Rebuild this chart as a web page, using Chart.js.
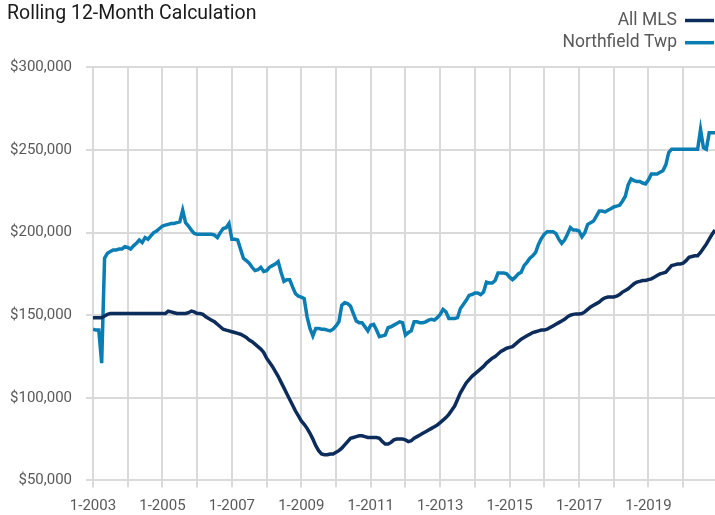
<!DOCTYPE html>
<html>
<head>
<meta charset="utf-8">
<script src="https://cdn.jsdelivr.net/npm/chart.js@4.4.1/dist/chart.umd.min.js"></script>
<style>
html, body { margin: 0; padding: 0; background: #fff; }
#wrap { width: 715px; height: 515px; position: relative; }
</style>
</head>
<body>
<div id="wrap"><canvas id="myChart"></canvas></div>
<script>
// Monthly rolling values, 1-2003 to 12-2020 (one row per year)
const startYear = 2003;
const tickYears = [2003, 2004, 2005, 2006, 2007, 2008, 2009, 2010, 2011, 2012, 2013, 2014, 2015, 2016, 2017, 2018, 2019, 2020];
const yTicks = [50000, 100000, 150000, 200000, 250000, 300000];
const seriesNames = ['All MLS', 'Northfield Twp'];

const allMls = [
	148500, 148500, 148500, 148500, 149500, 150500, 151000, 151000, 151000, 151000, 151000, 151000,
	151000, 151000, 151000, 151000, 151000, 151000, 151000, 151000, 151000, 151000, 151000, 151000,
	151000, 151000, 152500, 152000, 151500, 151000, 151000, 151000, 151000, 151500, 152500, 152000,
	151000, 151000, 150500, 149000, 148000, 147000, 146000, 144500, 143000, 141500, 141000, 140500,
	140000, 139500, 139000, 138500, 137500, 136500, 135000, 134000, 132500, 131000, 129500, 127500,
	124000, 121500, 119000, 116000, 113000, 109500, 106000, 102500, 99000, 95500, 92000, 89000,
	86000, 84000, 81500, 78500, 75000, 71000, 68000, 66000, 65500, 65500, 66000, 66000,
	67000, 68000, 69500, 71500, 73500, 75500, 76000, 76500, 77000, 77000, 76500, 76000,
	76000, 76000, 76000, 75500, 73500, 72000, 72000, 73000, 74500, 75000, 75000, 75000,
	74500, 73500, 74000, 75500, 76500, 77500, 78500, 79500, 80500, 81500, 82500, 83500,
	85000, 86500, 88000, 90000, 92500, 95000, 99000, 103000, 106000, 109000, 111000, 113000,
	114500, 116000, 117500, 119000, 121000, 122500, 124000, 125000, 126500, 128000, 129000, 130000,
	130500, 131000, 132500, 134000, 135500, 136500, 137500, 138500, 139500, 140000, 140500, 141000,
	141000, 141500, 142500, 143500, 144500, 145500, 146500, 147500, 149000, 150000, 150500, 150800,
	150800, 151000, 152000, 153500, 155000, 156000, 157000, 158000, 159500, 160500, 161000, 161000,
	161000, 161500, 162500, 164000, 165000, 166000, 167500, 169000, 170000, 170500, 171000, 171000,
	171500, 172000, 173000, 174000, 175000, 175500, 176000, 178000, 180000, 180500, 181000, 181000,
	181500, 183000, 185000, 185500, 186000, 186000, 188000, 190500, 193000, 196000, 199000, 201500
];

const northfield = [
	141500, 141000, 141000, 121000, 184500, 187500, 188500, 189500, 189500, 190000, 190000, 191500,
	191000, 190000, 192000, 193500, 195500, 194000, 197000, 196000, 198000, 200000, 201000, 202500,
	204000, 204500, 205000, 205500, 205500, 206000, 206500, 213500, 206000, 204000, 201500, 199500,
	199000, 199000, 199000, 199000, 199000, 199000, 198500, 197000, 200000, 202500, 203000, 205500,
	196000, 196000, 195500, 190000, 184500, 183000, 181500, 179000, 177000, 177500, 179000, 176500,
	177000, 179000, 180000, 181000, 182500, 176000, 170500, 171500, 171500, 167000, 163000, 161500,
	161000, 160000, 149000, 142000, 137500, 142000, 142000, 141500, 141500, 141000, 140500, 141500,
	143500, 146000, 156000, 157500, 157000, 155500, 151000, 146500, 145500, 145500, 143000, 140500,
	144000, 144500, 141000, 137000, 137500, 138000, 142500, 143000, 144000, 145000, 146000, 145500,
	138000, 139500, 140500, 146000, 146000, 145500, 145500, 146000, 147000, 147500, 147000, 148500,
	150500, 153500, 152000, 148000, 148000, 148000, 148500, 154000, 156500, 159000, 162000, 162500,
	163500, 163500, 162500, 164000, 170000, 169500, 169500, 171000, 175500, 175500, 175500, 175000,
	173000, 171500, 173000, 175000, 176000, 180000, 182000, 184500, 186000, 188000, 193000, 196500,
	199000, 200500, 200500, 200500, 199500, 196000, 193500, 195500, 199000, 203000, 201500, 201500,
	201000, 197500, 200000, 205000, 206000, 207000, 210000, 213000, 213000, 212500, 213500, 214500,
	215500, 216000, 216500, 219000, 222000, 229000, 232500, 231500, 231000, 231000, 230000, 229500,
	232000, 235500, 235500, 235500, 236500, 237500, 241000, 248500, 250500, 250500, 250500, 250500,
	250500, 250500, 250500, 250500, 250500, 250500, 262500, 251500, 250500, 260500, 260500, 260500
];

const colors = ['#0c2d5c', '#0a7db3'];
const gridColor = '#dadada';
const textColor = '#595959';

//Title and legend drawn on the canvas
const titleLegend = {
	id: 'titleLegend',
	afterDraw(chart) {
		let ctx = chart.ctx;
		ctx.save();
		ctx.font = '19.5px Roboto';
		ctx.fillStyle = '#1a1a1a';
		ctx.textAlign = 'left';
		ctx.textBaseline = 'alphabetic';
		ctx.fillText('Rolling 12-Month Calculation', 7, 19);

		ctx.font = '17.5px Roboto';
		ctx.textAlign = 'right';
		ctx.textBaseline = 'middle';
		chart.data.datasets.forEach((ds, i) => {
			let y = 20.5 + i * 22.2;
			ctx.fillStyle = textColor;
			ctx.fillText(ds.label, 677, y);
			ctx.strokeStyle = ds.borderColor;
			ctx.lineWidth = 3.5;
			ctx.beginPath();
			ctx.moveTo(685, y);
			ctx.lineTo(714, y);
			ctx.stroke();
		});
		ctx.restore();
	}
};

const toPoints = arr => arr.map((v, i) => ({ x: i, y: v }));

const ctx = document.getElementById('myChart').getContext('2d');
const myChart = new Chart(ctx, {
	type: 'line',
	data: {
		datasets: [{
			label: seriesNames[0],
			data: toPoints(allMls),
			borderColor: colors[0],
			borderWidth: 3.5,
			pointRadius: 0,
			tension: 0
		}, {
			label: seriesNames[1],
			data: toPoints(northfield),
			borderColor: colors[1],
			borderWidth: 3.5,
			pointRadius: 0,
			tension: 0
		}]
	},
	options: {
		responsive: true,
		maintainAspectRatio: false,
		animation: false,
		devicePixelRatio: 1,
		layout: { padding: { top: 67.4, left: 0, right: 0, bottom: 0 } },
		plugins: {
			legend: { display: false },
			title: { display: false },
			tooltip: { enabled: false }
		},
		scales: {
			x: {
				type: 'linear',
				min: 0,
				max: allMls.length - 1,
				afterFit(scale) { scale.height = 515 - 480.4; },
				afterBuildTicks(scale) {
					scale.ticks = tickYears.map(y => ({ value: (y - startYear) * 12 }));
				},
				grid: { color: gridColor, lineWidth: 2, tickLength: 7 },
				border: { color: gridColor, width: 2 },
				ticks: {
					autoSkip: false,
					maxRotation: 0,
					padding: 10,
					color: textColor,
					font: { family: 'Roboto', size: 15 },
					callback(value) {
						let year = startYear + value / 12;
						return (year - startYear) % 2 === 0 ? '1-' + year : '';
					}
				}
			},
			y: {
				min: yTicks[0],
				max: yTicks[yTicks.length - 1],
				afterFit(scale) { scale.width = 93; },
				afterBuildTicks(scale) {
					scale.ticks = yTicks.map(v => ({ value: v }));
				},
				grid: { color: gridColor, lineWidth: 2, tickLength: 7 },
				border: { color: gridColor, width: 2 },
				ticks: {
					padding: 14,
					color: textColor,
					font: { family: 'Roboto', size: 15 },
					callback: value => '$' + value.toLocaleString('en-US')
				}
			}
		}
	},
	plugins: [titleLegend]
});
</script>
</body>
</html>
